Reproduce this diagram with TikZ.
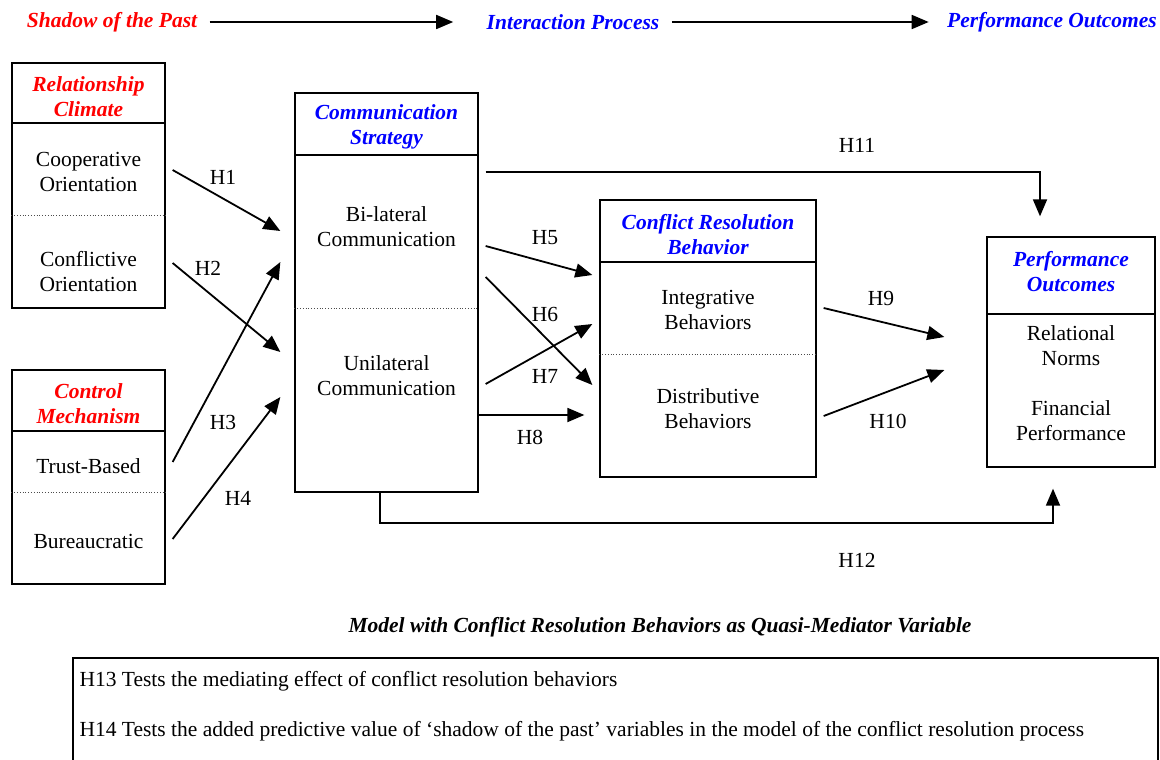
\documentclass[tikz,border=0pt]{standalone}
\usepackage{fontspec}
\setmainfont{Liberation Serif}
\usetikzlibrary{arrows.meta,positioning,calc}

\begin{document}
\begin{tikzpicture}[x=1pt,y=-1pt] % pixel-like units, y grows downwards
\tikzset{box/.style={draw, line width=1.3pt, inner sep=0pt}} % outer frame of a block
\tikzset{rule/.style={line width=1.3pt}} % line under a block title
\tikzset{sep/.style={dotted, line width=0.8pt, black!70}} % split between two items
\tikzset{head/.style={font=\fontsize{21.5}{25}\selectfont\bfseries\itshape, align=center}}
\tikzset{past/.style={head, text=red}, proc/.style={head, text=blue}}
\tikzset{item/.style={font=\fontsize{21.5}{25}\selectfont, align=center}}
\tikzset{hyp/.style={font=\fontsize{21.5}{24}\selectfont}}
\tikzset{arr/.style={-{Triangle[length=17pt,width=14pt]}, line width=1.8pt}}
\useasboundingbox (0,0) rectangle (1160,760);

% time line
\node[past] (past) at (112,22) {Shadow of the Past};
\node[proc] (proc) at (573,22) {Interaction Process};
\node[proc] (perf) at (1052,22) {Performance Outcomes};
\draw[arr, shorten <=9pt, shorten >=30pt] (past) -- (proc);
\draw[arr, shorten <=9pt, shorten >=15pt] (proc) -- (perf);

% relationship climate
\node[box, minimum width=153, minimum height=245] (rc) at (88.5,185.5) {};
\node[past] (rc-t) at (88.5,97) {Relationship\\Climate};
\draw[rule] (rc.west |- 0,123) -- (rc.east |- 0,123);
\node[item] (coop) at (88.5,172) {Cooperative\\Orientation};
\draw[sep] (rc.west |- 0,215) -- (rc.east |- 0,215);
\node[item] (confl) at (88.5,272) {Conflictive\\Orientation};

% control mechanism
\node[box, minimum width=153, minimum height=214] (cm) at (88.5,477) {};
\node[past] (cm-t) at (88.5,404) {Control\\Mechanism};
\draw[rule] (cm.west |- 0,431) -- (cm.east |- 0,431);
\node[item] (trust) at (88.5,466) {Trust-Based};
\draw[sep] (cm.west |- 0,492) -- (cm.east |- 0,492);
\node[item] (bureau) at (88.5,541) {Bureaucratic};

% communication strategy
\node[box, minimum width=183, minimum height=399] (cs) at (386.5,292.5) {};
\node[proc] (cs-t) at (386.5,127) {Communication\\Strategy};
\draw[rule] (cs.west |- 0,155) -- (cs.east |- 0,155);
\node[item] (bilat) at (386.5,227) {Bi-lateral\\Communication};
\draw[sep] (cs.west |- 0,308) -- (cs.east |- 0,308);
\node[item] (unilat) at (386.5,376) {Unilateral\\Communication};

% conflict resolution behavior
\node[box, minimum width=216, minimum height=277] (cr) at (708,338.5) {};
\node[proc] (cr-t) at (708,235) {Conflict Resolution\\Behavior};
\draw[rule] (cr.west |- 0,262) -- (cr.east |- 0,262);
\node[item] (integ) at (708,310) {Integrative\\Behaviors};
\draw[sep] (cr.west |- 0,354) -- (cr.east |- 0,354);
\node[item] (distr) at (708,409) {Distributive\\Behaviors};

% performance outcomes
\node[box, minimum width=168, minimum height=230] (po) at (1071,352) {};
\node[proc] (po-t) at (1071,272) {Performance\\Outcomes};
\draw[rule] (po.west |- 0,314) -- (po.east |- 0,314);
\node[item] (norms) at (1071,346) {Relational\\Norms};
\node[item] (finan) at (1071,421) {Financial\\Performance};

% hypotheses
\draw[arr] ($(rc.east)+(7,-15.5)$) -- ($(cs.west)+(-14,-61.5)$);
\draw[arr] ($(rc.east)+(7,77.5)$) -- ($(cs.west)+(-14,59.5)$);
\draw[arr] ($(cm.east)+(7,-15)$) -- ($(cs.west)+(-14,-30.5)$);
\draw[arr] ($(cm.east)+(7,62)$) -- ($(cs.west)+(-14,104.5)$);
\draw[arr] ($(cs.east)+(7,-46.5)$) -- ($(cr.west)+(-7,-63.5)$);
\draw[arr] ($(cs.east)+(7,-15.5)$) -- ($(cr.west)+(-7,46.5)$);
\draw[arr] ($(cs.east)+(7,91.5)$) -- ($(cr.west)+(-7,-14.5)$);
\draw[arr] ($(cs.east)+(0,122.5)$) -- ($(cr.west)+(-15,76.5)$);
\draw[arr] ($(cr.east)+(7,-30.5)$) -- ($(po.west)+(-42,-15)$);
\draw[arr] ($(cr.east)+(7,77.5)$) -- ($(po.west)+(-42,18)$);
\draw[arr] ($(cs.east)+(7,-120.5)$) -| ($(po.north)+(-31,-20)$);
\draw[arr] ($(cs.south)+(-6.5,0)$) -- ++(0,30) -| ($(po.south)+(-18,21)$);
\node[hyp] (h1) at (223,177) {H1};
\node[hyp] (h2) at (208,268) {H2};
\node[hyp] (h3) at (223,422) {H3};
\node[hyp] (h4) at (238,498) {H4};
\node[hyp] (h5) at (545,238) {H5};
\node[hyp] (h6) at (545,314) {H6};
\node[hyp] (h7) at (545,376) {H7};
\node[hyp] (h8) at (530,437) {H8};
\node[hyp] (h9) at (881,298) {H9};
\node[hyp] (h10) at (888,421) {H10};
\node[hyp] (h11) at (857,145) {H11};
\node[hyp] (h12) at (857,560) {H12};

% caption and notes
\node[head] (cap) at (660,627) {Model with Conflict Resolution Behaviors as Quasi-Mediator Variable};
\draw[rule] (73,658) rectangle (1158,780);
\node[hyp, anchor=west] (h13) at (76,681) {H13 Tests the mediating effect of conflict resolution behaviors};
\node[hyp, anchor=west] (h14) at (76,731) {H14 Tests the added predictive value of ‘shadow of the past’ variables in the model of the conflict resolution process};
\end{tikzpicture}
\end{document}
